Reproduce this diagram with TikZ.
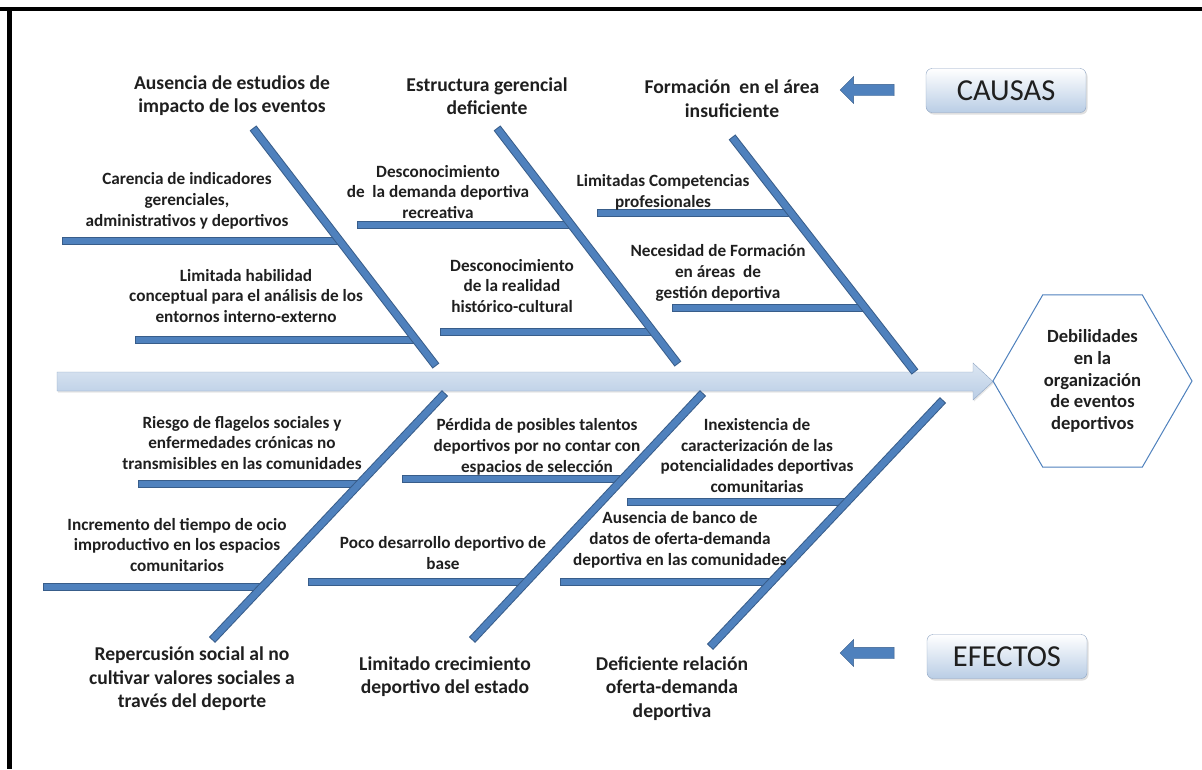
\documentclass[tikz,border=0pt]{standalone}
\usepackage{fontspec}
\setmainfont{Carlito}
\usetikzlibrary{shapes.geometric,shapes.arrows,shadows}
\definecolor{boneblue}{HTML}{4F81BD}
\definecolor{bonedark}{HTML}{385D8A}
\definecolor{spinetop}{HTML}{DCE6F2}
\definecolor{spinebot}{HTML}{B9CDE5}
\definecolor{spineline}{HTML}{8EA4C2}
\definecolor{txt}{HTML}{1F1F1F}
\begin{document}
\begin{tikzpicture}
[x=1pt,y=-1pt,
bone/.style={line width=8.5pt,draw=bonedark,postaction={draw=boneblue,line width=6.5pt,shorten <=1pt,shorten >=1pt}},
lbl/.style={align=center,text=txt,font=\fontsize{17.2}{20.8}\selectfont\bfseries,inner sep=0pt},
hd/.style={align=center,text=txt,font=\fontsize{19.6}{23.5}\selectfont\bfseries,inner sep=0pt},
tag/.style={draw=spineline,rounded corners=6pt,top color=white,bottom color=spinebot,minimum width=160pt,minimum height=44pt,font=\fontsize{30.5}{32}\selectfont,text=txt,drop shadow={opacity=.25,shadow xshift=1.5pt,shadow yshift=-2pt}},
blk/.style={single arrow,shape border rotate=180,fill=boneblue,draw=bonedark,minimum height=54pt,minimum width=27pt,inner sep=5pt}]
\useasboundingbox (0,0) rectangle (1202,769);
\draw[line width=4pt] (0,9) -- (1202,9);
\draw[line width=5pt] (9,7) -- (9,769);

\draw[draw=spineline,top color=spinetop,bottom color=spinebot,drop shadow={opacity=.2,shadow xshift=1pt,shadow yshift=-1.5pt}]
  (57,372) -- (973,372) -- (973,363) -- (993,381.5) -- (973,400) -- (973,391) -- (57,391) -- cycle;

\node[regular polygon,regular polygon sides=6,minimum size=199pt,draw=boneblue,fill=white,line width=1pt,lbl,font=\fontsize{18.6}{21.7}\selectfont\bfseries] (goal) at (1092.5,381) {Debilidades\\en la\\organización\\de eventos\\deportivos};

\node[tag] (causas) at (1006,90.5) {CAUSAS};
\node[tag] (efectos) at (1007,656.5) {EFECTOS};
\node[blk] (causasarr) at (870,90) {};
\node[blk] (efectosarr) at (870,653) {};

\coordinate (a0) at (253,128); \coordinate (a9) at (436,366);
\coordinate (b0) at (497,128); \coordinate (b9) at (678,364);
\coordinate (c0) at (732,137); \coordinate (c9) at (915,372);
\coordinate (d0) at (445,393); \coordinate (d9) at (212,640);
\coordinate (e0) at (703,393); \coordinate (e9) at (472,640);
\coordinate (f0) at (943,400); \coordinate (f9) at (710,647);

\path (a0) -- (a9) coordinate[pos=.475] (a1) coordinate[pos=.891] (a2);
\path (b0) -- (b9) coordinate[pos=.411] (b1) coordinate[pos=.864] (b2);
\path (c0) -- (c9) coordinate[pos=.323] (c1) coordinate[pos=.728] (c2);
\path (d0) -- (d9) coordinate[pos=.368] (d1) coordinate[pos=.785] (d2);
\path (e0) -- (e9) coordinate[pos=.348] (e1) coordinate[pos=.765] (e2);
\path (f0) -- (f9) coordinate[pos=.413] (f1) coordinate[pos=.737] (f2);

\coordinate (a1l) at (62,241); \coordinate (a2l) at (135,340);
\coordinate (b1l) at (357,225); \coordinate (b2l) at (440,332);
\coordinate (c1l) at (597,213); \coordinate (c2l) at (672,308);
\coordinate (d1l) at (138,484); \coordinate (d2l) at (43,587);
\coordinate (e1l) at (402,479); \coordinate (e2l) at (308,582);
\coordinate (f1l) at (627,502); \coordinate (f2l) at (560,582);

\draw[bone] (a1l |- a1) -- (a1);
\draw[bone] (a2l |- a2) -- (a2);
\draw[bone] (b1l |- b1) -- (b1);
\draw[bone] (b2l |- b2) -- (b2);
\draw[bone] (c1l |- c1) -- (c1);
\draw[bone] (c2l |- c2) -- (c2);
\draw[bone] (d1l |- d1) -- (d1);
\draw[bone] (d2l |- d2) -- (d2);
\draw[bone] (e1l |- e1) -- (e1);
\draw[bone] (e2l |- e2) -- (e2);
\draw[bone] (f1l |- f1) -- (f1);
\draw[bone] (f2l |- f2) -- (f2);

\draw[bone] (a0) -- (a9);
\draw[bone] (b0) -- (b9);
\draw[bone] (c0) -- (c9);
\draw[bone] (d0) -- (d9);
\draw[bone] (e0) -- (e9);
\draw[bone] (f0) -- (f9);

\node[hd] (ahd) at (232,95.5) {Ausencia de estudios de\\impacto de los eventos};
\node[hd] (bhd) at (487,96) {Estructura gerencial\\deficiente};
\node[hd] (chd) at (732,98.5) {Formación~ en el área\\insuficiente};
\node[hd] (dhd) at (192,679) {Repercusión social al no\\cultivar valores sociales a\\través del deporte};
\node[hd] (ehd) at (445,676.5) {Limitado crecimiento\\deportivo del estado};
\node[hd] (fhd) at (672,688.5) {Deficiente relación\\oferta-demanda\\deportiva};

\node[lbl] (a1t) at (187,201) {Carencia de indicadores\\gerenciales,\\administrativos y deportivos};
\node[lbl] (a2t) at (246,296) {Limitada habilidad\\conceptual para el análisis de los\\entornos interno-externo};
\node[lbl] (b1t) at (438,192) {Desconocimiento\\de~ la demanda deportiva\\recreativa};
\node[lbl] (b2t) at (512,286) {Desconocimiento\\de la realidad\\histórico-cultural};
\node[lbl] (c1t) at (663,192) {Limitadas Competencias\\profesionales};
\node[lbl] (c2t) at (718,273) {Necesidad de Formación\\en áreas~ de\\gestión deportiva};
\node[lbl] (d1t) at (242,443) {Riesgo de flagelos sociales y\\enfermedades crónicas no\\transmisibles en las comunidades};
\node[lbl] (d2t) at (177,545) {Incremento del tiempo de ocio\\improductivo en los espacios\\comunitarios};
\node[lbl] (e1t) at (537,447) {Pérdida de posibles talentos\\deportivos por no contar con\\espacios de selección};
\node[lbl] (e2t) at (443,553) {Poco desarrollo deportivo de\\base};
\node[lbl] (f1t) at (757,455.5) {Inexistencia de\\caracterización de las\\potencialidades deportivas\\comunitarias};
\node[lbl] (f2t) at (680,540) {Ausencia de banco de\\datos de oferta-demanda\\deportiva en las comunidades};
\end{tikzpicture}
\end{document}
